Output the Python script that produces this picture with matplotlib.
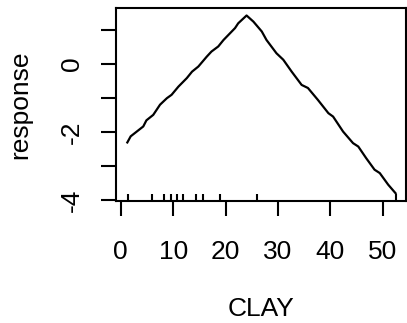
import numpy as np
import matplotlib
matplotlib.use("Agg")
import matplotlib.pyplot as plt
import matplotlib.transforms as mtransforms

# partial dependence curve
clay = [1.26, 1.9, 4.3, 4.9, 6.2, 7.5, 8.8, 9.7, 11.0, 12.6, 13.6, 14.8, 16.4,
        17.3, 18.6, 19.6, 21.8, 22.4, 24.0, 25.3, 26.9, 27.8, 29.7, 31.0, 32.6,
        34.5, 35.7, 37.6, 39.6, 40.5, 42.4, 44.3, 45.3, 46.8, 48.4, 49.4, 51.0,
        52.4]
response = [-2.30, -2.12, -1.83, -1.65, -1.49, -1.19, -1.00, -0.90, -0.66,
            -0.41, -0.22, -0.07, 0.22, 0.37, 0.52, 0.71, 1.06, 1.20, 1.43, 1.25,
            0.96, 0.71, 0.32, 0.13, -0.22, -0.61, -0.70, -1.05, -1.44, -1.54,
            -1.98, -2.32, -2.42, -2.76, -3.10, -3.20, -3.54, -3.79]

# rug of observed CLAY values
rug_x = [1.3, 6.0, 8.3, 9.6, 10.7, 11.9, 14.4, 15.6, 18.9, 26.0, 52.4]

x_ticks = [0, 10, 20, 30, 40, 50]
y_ticks = [-4, -3, -2, -1, 0, 1]
y_tick_labels = ['-4', '', '-2', '', '0', '']

plt.rcParams['font.family'] = ['Liberation Sans', 'DejaVu Sans']

fig = plt.figure(figsize=(4.07, 3.23), dpi=100)
ax = fig.add_axes([116 / 407, 1 - 201 / 323, 290 / 407, 193 / 323])

ax.plot(clay, response, color='black', lw=1.6)

trans = mtransforms.blended_transform_factory(ax.transData, ax.transAxes)
ax.vlines(rug_x, 0, 0.035, transform=trans, color='black', lw=1.5)

ax.set_xlim(-0.9, 54.4)
ax.set_ylim(-4.02, 1.65)
ax.set_xticks(x_ticks)
ax.set_yticks(y_ticks)
ax.set_yticklabels(y_tick_labels, rotation=90, va='center')

for s in ax.spines.values():
    s.set_linewidth(1.5)

ax.tick_params(axis='both', direction='out', length=11, width=1.5,
               labelsize=19, color='black')
ax.tick_params(axis='x', pad=17)
ax.tick_params(axis='y', pad=12)

ax.set_xlabel('CLAY', fontsize=19, labelpad=24)
ax.set_ylabel('response', fontsize=19, labelpad=20)

fig.savefig('out.png', dpi=100)
